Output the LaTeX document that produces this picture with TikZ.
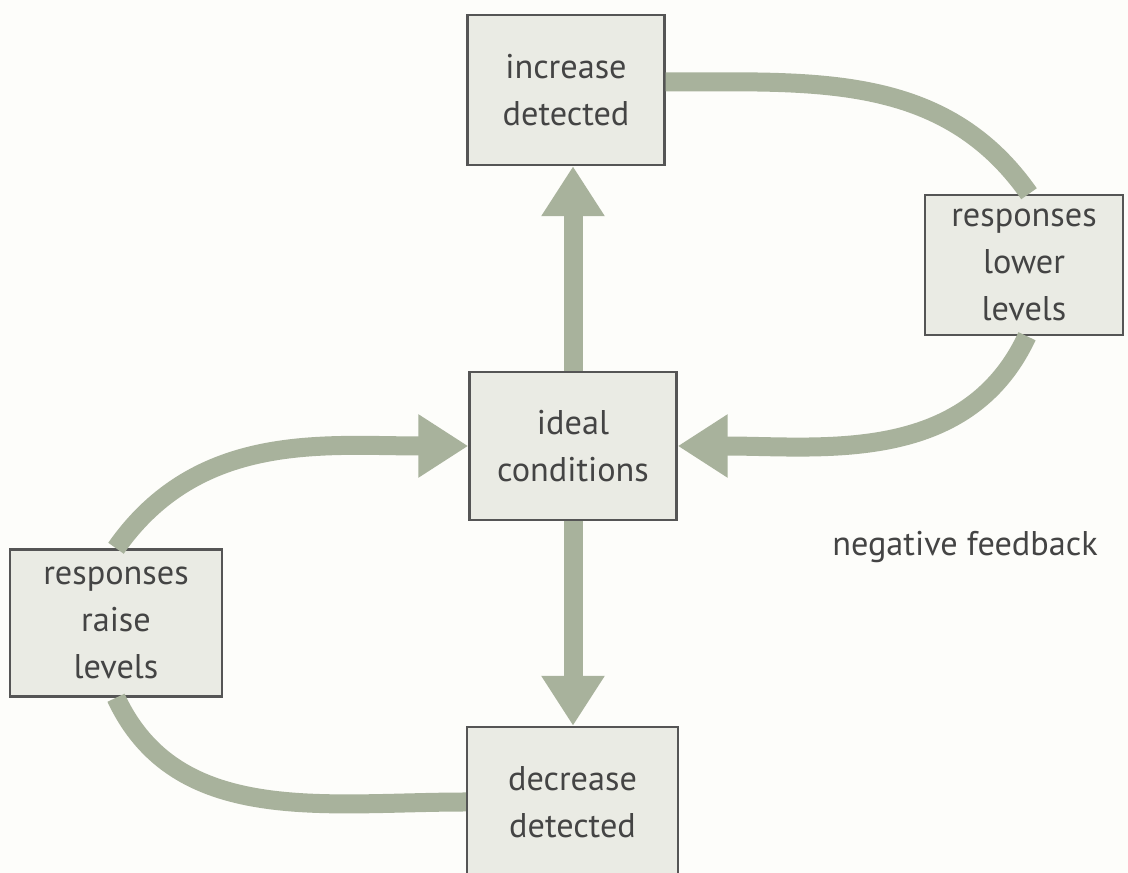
\documentclass[tikz,border=0pt]{standalone}
\usepackage{fontspec}
\setmainfont{PT Sans}
\usetikzlibrary{arrows.meta}
\definecolor{loopgreen}{RGB}{168,178,156}
\definecolor{boxfill}{RGB}{234,235,228}
\definecolor{boxline}{RGB}{85,85,85}
\definecolor{inkgray}{RGB}{68,68,68}
\definecolor{paper}{RGB}{253,253,250}
\begin{document}
\begin{tikzpicture}[
    box/.style={draw=boxline, fill=boxfill, line width=1.4pt, align=center,
      text=inkgray, font=\fontsize{19.5}{26.5}\selectfont, inner sep=0pt},
    loop/.style={draw=loopgreen, line width=0.38cm},
    tip/.style={loop, -{Triangle[width=1.2cm,length=1cm]}}]
      \path[use as bounding box, fill=paper] (0,0) rectangle (22.56,17.46);
      \node[box, minimum width=3.94cm, minimum height=3cm] (inc) at (11.32,15.66) {increase\\detected};
      \node[box, minimum width=3.96cm, minimum height=2.8cm] (lower) at (20.48,12.16) {responses\\lower\\levels};
      \node[box, minimum width=4.14cm, minimum height=2.96cm] (ideal) at (11.46,8.54) {ideal\\conditions};
      \node[box, minimum width=4.24cm, minimum height=2.94cm] (raise) at (2.32,5.0) {responses\\raise\\levels};
      \node[box, minimum width=4.22cm, minimum height=3cm] (dec) at (11.45,1.42) {decrease\\detected};
      \node[text=inkgray, font=\fontsize{19.5}{26.5}\selectfont] (neg) at (19.3,6.52) {negative feedback};
      \draw[tip] (ideal.north) -- (ideal.north |- inc.south);
      \draw[tip] (ideal.south) -- (ideal.south |- dec.north);
      \draw[loop] ([yshift=0.16cm]inc.east) to[out=0,in=125] ([xshift=0.1cm]lower.north);
      \draw[tip] ([xshift=0.06cm]lower.south) to[out=-115,in=0] (ideal.east);
      \draw[tip] (raise.north) to[out=55,in=180] (ideal.west);
      \draw[loop] (raise.south) to[out=-65,in=180] (dec.west);
\end{tikzpicture}
\end{document}
